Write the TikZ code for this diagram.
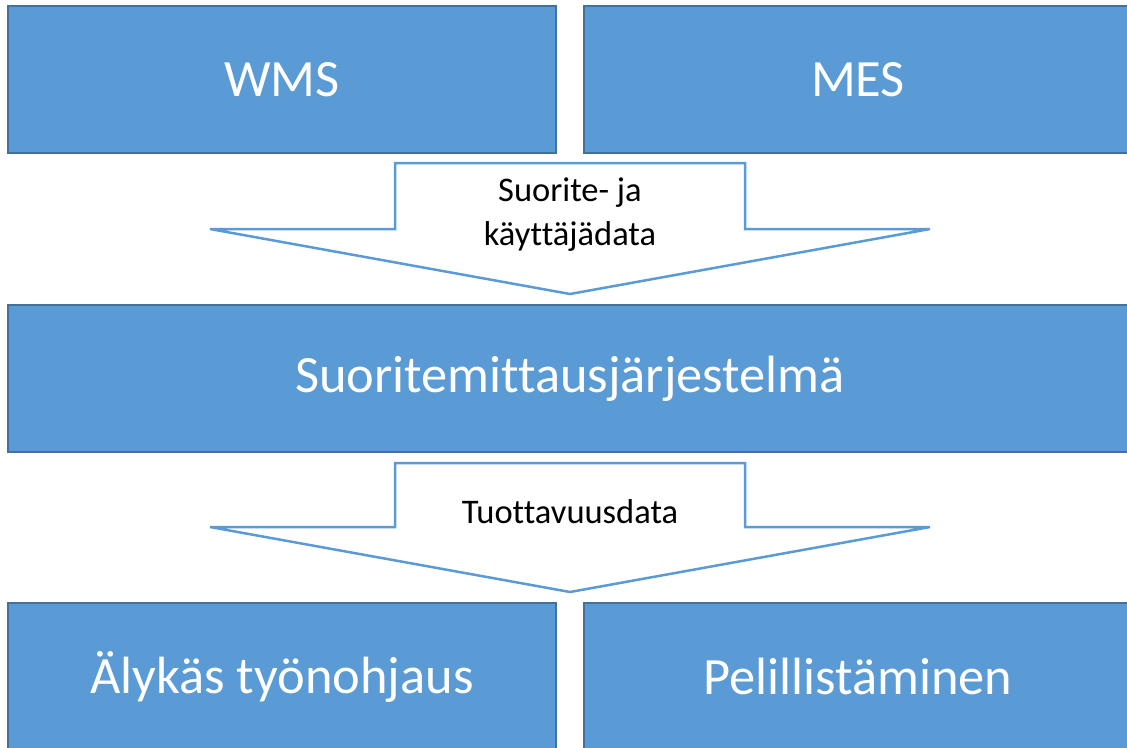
\documentclass[tikz,border=0pt]{standalone}
\usepackage{fontspec}
\setmainfont{Carlito}[Ligatures=CommonOff]
\definecolor{boxblue}{RGB}{91,155,213}
\definecolor{boxedge}{RGB}{65,113,156}
\tikzset{
    sysbox/.style={draw=boxedge, fill=boxblue, line width=1.5pt, text=white,
        font=\fontsize{52.4}{62}\selectfont, inner sep=0pt},
    flowarrow/.style={draw=boxblue, fill=white, line width=2.5pt, line join=miter},
    flowlabel/.style={font=\fontsize{34.5}{44}\selectfont, align=center, text=black}
}
\begin{document}
\begin{tikzpicture}[x=1pt,y=-1pt]
    \useasboundingbox (0,0) rectangle (1127,747);
    \clip (0,0) rectangle (1127,747);
    % top row
    \node[sysbox, minimum width=548pt, minimum height=147pt] (wms) at (282,79.5) {WMS};
    \node[sysbox, minimum width=548pt, minimum height=147pt] (mes) at (858,79.5) {MES};
    % first flow
    \draw[flowarrow] (395,163) -- (745,163) -- (745,229) -- (930,229) -- (570,294)
        -- (210,229) -- (395,229) -- cycle;
    \node[flowlabel] (inflow) at (570,215) {Suorite- ja\\käyttäjädata};
    % middle
    \node[sysbox, minimum width=1124pt, minimum height=147pt] (sms) at (570,378.5) {Suoritemittausjärjestelmä};
    % second flow
    \draw[flowarrow] (395,463) -- (745,463) -- (745,527) -- (930,527) -- (570,592)
        -- (210,527) -- (395,527) -- cycle;
    \node[flowlabel] (outflow) at (570,512) {Tuottavuusdata};
    % bottom row
    \node[sysbox, minimum width=548pt, minimum height=147pt] (aly) at (282,676.5) {Älykäs työnohjaus};
    \node[sysbox, minimum width=548pt, minimum height=147pt] (peli) at (858,676.5) {Pelillistäminen};
\end{tikzpicture}
\end{document}
